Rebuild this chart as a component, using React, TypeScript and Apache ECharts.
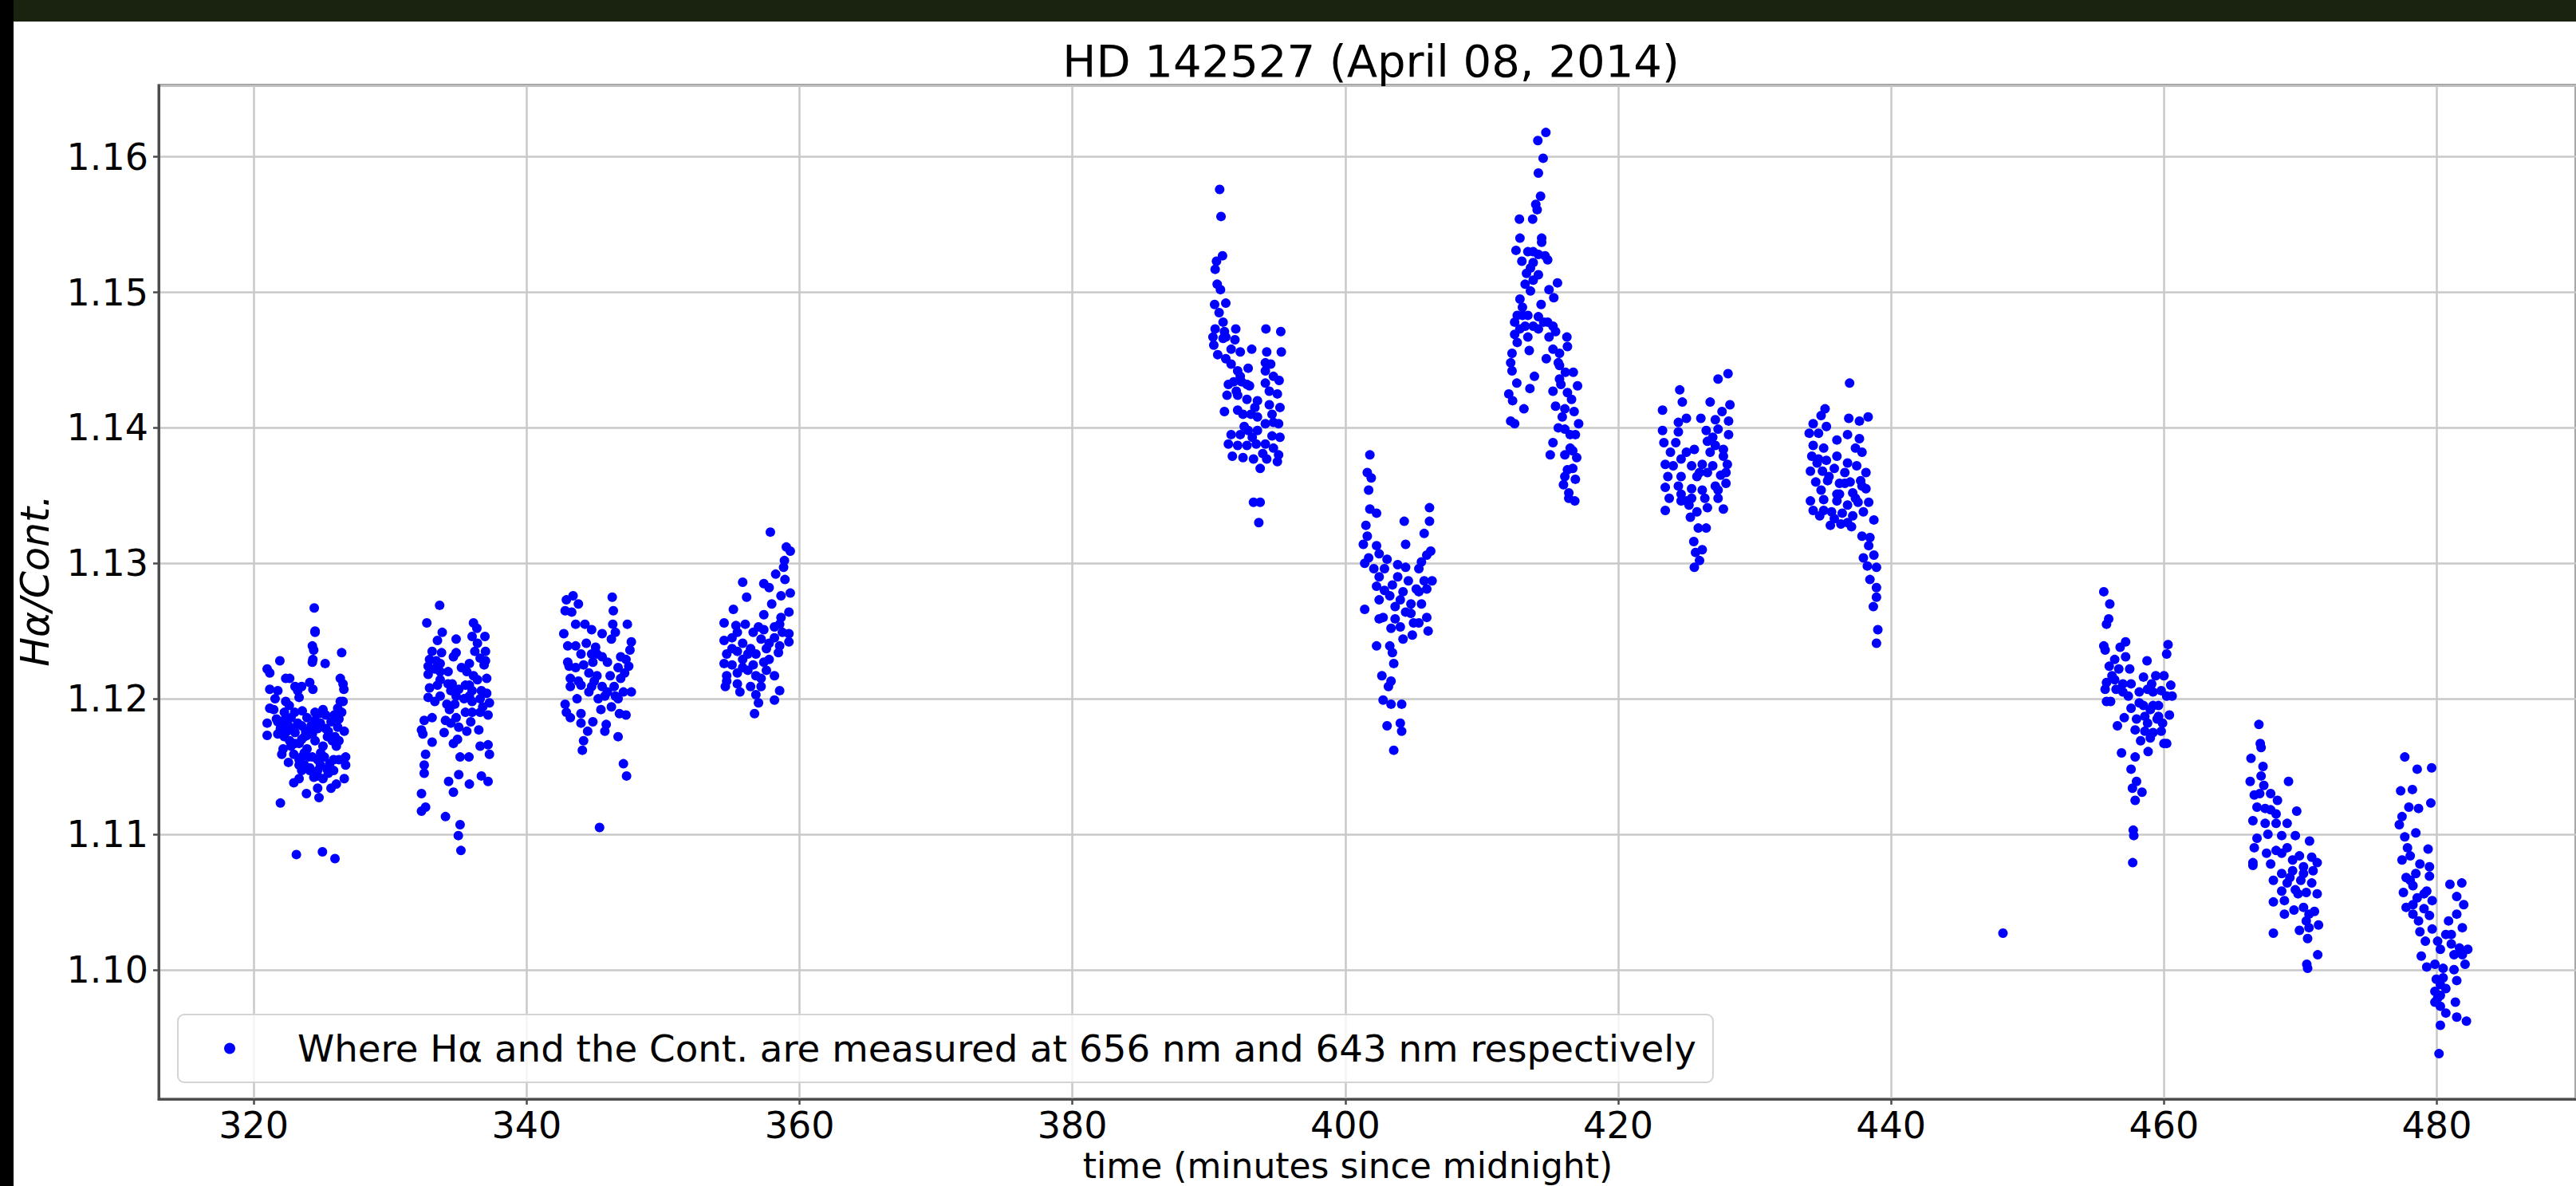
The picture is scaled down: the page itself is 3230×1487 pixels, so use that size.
import React, { useEffect, useRef } from "react";
import * as echarts from "echarts";

const TITLE = "HD 142527 (April 08, 2014)";
const X_LABEL = "time (minutes since midnight)";
const Y_LABEL = "Hα/Cont.";
const LEGEND_LABEL = "Where Hα and the Cont. are measured at 656 nm and 643 nm respectively";

const X_MIN = 313.03;
const X_MAX = 490.2;
const X_STEP = 20;
const Y_MIN = 1.09045;
const Y_MAX = 1.16528;
const Y_STEP = 0.01;

type P = [number, number];

const seg321: P[] = [
  [324.43,1.1267],[324.49,1.1250],[324.49,1.1249],[324.29,1.1239],[324.39,1.1236],[324.33,1.1229],[324.29,1.1227],[325.23,1.1226],[326.44,1.1234],[321.91,1.1228],[320.98,1.1222],[321.17,1.1219],[322.34,1.1215],[322.63,1.1215],[323.02,1.1209],[323.22,1.1206],[323.51,1.1209],[324.10,1.1212],[324.33,1.1207],[326.34,1.1215],[326.54,1.1211],[326.60,1.1207],[321.17,1.1207],[321.76,1.1206],[323.32,1.1201],[322.34,1.1198],[321.17,1.1193],[321.46,1.1192],[323.55,1.1191],[325.07,1.1192],[324.78,1.1189],[326.34,1.1198],[326.44,1.1190],[326.24,1.1185],[320.98,1.1182],[321.76,1.1183],[322.05,1.1180],[322.44,1.1176],[322.73,1.1186],[323.22,1.1182],[323.51,1.1180],[323.80,1.1176],[320.98,1.1173],[321.76,1.1174],[322.24,1.1172],[322.63,1.1169],[323.02,1.1167],[323.51,1.1170],[323.90,1.1173],[324.20,1.1180],[324.49,1.1184],[324.88,1.1182],[325.27,1.1178],[325.66,1.1183],[326.15,1.1179],[326.63,1.1176],[322.15,1.1163],[322.05,1.1159],[322.73,1.1165],[323.32,1.1167],[323.90,1.1163],[324.49,1.1169],[325.07,1.1165],[325.76,1.1169],[326.05,1.1165],[322.54,1.1153],[323.32,1.1155],[323.71,1.1151],[324.10,1.1149],[324.68,1.1155],[325.17,1.1157],[325.56,1.1152],[325.85,1.1155],[326.73,1.1157],[326.73,1.1151],[322.93,1.1138],[323.32,1.1141],[323.51,1.1147],[324.10,1.1147],[324.68,1.1143],[325.07,1.1141],[325.46,1.1145],[325.66,1.1134],[326.05,1.1137],[326.63,1.1141],[323.86,1.1130],[324.68,1.1134],[324.78,1.1127],[321.95,1.1123],[323.12,1.1085],[325.03,1.1087],[325.95,1.1082],
  [322.30,1.1185],[322.90,1.1178],[323.00,1.1190],[323.70,1.1160],[324.90,1.1160],[325.40,1.1172],[325.90,1.1188],[322.60,1.1195],[324.00,1.1157],[324.40,1.1142],
  [321.66,1.1185],[321.95,1.1178],[322.54,1.1180],[323.02,1.1175],[323.71,1.1172],[324.29,1.1174],[324.68,1.1178],[325.46,1.1176],[325.95,1.1172],[326.24,1.1169],[322.93,1.1159],[323.51,1.1157],[324.29,1.1157],[324.88,1.1151],[325.37,1.1148],[325.85,1.1147],[324.68,1.1147],[323.32,1.1151],[326.24,1.1155],[326.54,1.1198],[326.15,1.1193],[325.27,1.1188],[324.49,1.1190],[323.90,1.1186],[322.24,1.1190],[321.56,1.1200]
];

const seg333: P[] = [
  [333.62,1.1269],[332.68,1.1256],[333.81,1.1249],[334.83,1.1244],[336.10,1.1256],[336.35,1.1252],[336.94,1.1246],[336.00,1.1246],[336.39,1.1241],[333.46,1.1243],[333.07,1.1235],[333.76,1.1234],[334.83,1.1234],[334.63,1.1231],[336.20,1.1235],[336.98,1.1235],[336.59,1.1230],[336.98,1.1228],[336.88,1.1225],[332.88,1.1229],[333.37,1.1228],[332.78,1.1224],[333.27,1.1222],[333.66,1.1220],[334.24,1.1220],[335.22,1.1223],[335.61,1.1220],[336.10,1.1217],[337.07,1.1215],[332.78,1.1218],[332.88,1.1208],[333.46,1.1210],[334.24,1.1211],[334.54,1.1211],[335.02,1.1207],[335.51,1.1210],[336.00,1.1206],[336.68,1.1206],[337.07,1.1204],[332.78,1.1201],[333.27,1.1198],[333.66,1.1202],[334.15,1.1196],[334.83,1.1202],[335.41,1.1200],[336.00,1.1198],[336.59,1.1200],[337.27,1.1197],[334.34,1.1192],[335.51,1.1190],[336.00,1.1190],[336.59,1.1190],[337.17,1.1188],[333.07,1.1186],[332.49,1.1184],[332.29,1.1177],[332.39,1.1174],[334.05,1.1184],[334.44,1.1182],[335.02,1.1179],[335.90,1.1183],[336.49,1.1177],[333.95,1.1175],[333.07,1.1168],[334.63,1.1167],[334.93,1.1170],[336.59,1.1165],[337.17,1.1166],[337.27,1.1159],[332.59,1.1159],[335.12,1.1157],[335.77,1.1157],[332.49,1.1151],[332.49,1.1145],[335.02,1.1144],[334.28,1.1139],[334.63,1.1131],[335.80,1.1137],[336.68,1.1143],[337.17,1.1139],[332.29,1.1130],[332.59,1.1120],[332.29,1.1117],[334.05,1.1113],[335.12,1.1107],[334.99,1.1099],[335.18,1.1088],
  [333.66,1.1214],[334.44,1.1206],[335.80,1.1210],[336.39,1.1214],[333.66,1.1226],[335.80,1.1226],[334.73,1.1196],[335.80,1.1202],[336.78,1.1194],[334.83,1.1186],[335.61,1.1176]
];

const seg345: P[] = [
  [343.40,1.1276],[342.91,1.1273],[343.79,1.1270],[346.27,1.1275],[342.82,1.1265],[343.30,1.1264],[346.35,1.1265],[343.59,1.1255],[344.27,1.1255],[344.76,1.1251],[345.53,1.1248],[346.31,1.1255],[346.50,1.1249],[347.38,1.1255],[342.72,1.1248],[347.67,1.1242],[346.21,1.1244],[343.01,1.1239],[343.59,1.1239],[344.37,1.1241],[345.05,1.1238],[343.98,1.1233],[345.15,1.1233],[347.57,1.1236],[343.01,1.1227],[343.11,1.1224],[344.17,1.1225],[344.85,1.1227],[345.92,1.1227],[347.28,1.1229],[347.48,1.1224],[343.20,1.1215],[343.79,1.1213],[344.56,1.1219],[345.15,1.1217],[346.12,1.1217],[346.89,1.1215],[347.18,1.1219],[343.20,1.1209],[343.98,1.1210],[344.76,1.1209],[345.53,1.1209],[346.41,1.1209],[347.67,1.1205],[347.09,1.1205],[343.69,1.1200],[345.24,1.1200],[345.73,1.1202],[346.70,1.1200],[342.82,1.1196],[342.91,1.1190],[343.20,1.1186],[343.98,1.1189],[345.44,1.1192],[346.21,1.1194],[346.80,1.1189],[347.28,1.1188],[343.98,1.1182],[344.85,1.1183],[345.83,1.1181],[345.73,1.1176],[344.47,1.1176],[346.70,1.1172],[344.17,1.1169],[344.08,1.1162],[347.09,1.1152],[347.32,1.1143],[345.34,1.1105],
  [344.76,1.1233],[345.53,1.1231],[346.70,1.1223],[344.95,1.1213],[345.92,1.1205],[346.50,1.1202],[344.56,1.1205],[343.59,1.1223],[346.89,1.1231]
];

const seg357: P[] = [
  [357.86,1.1323],[359.03,1.1312],[359.32,1.1309],[358.89,1.1302],[358.83,1.1297],[358.25,1.1292],[358.93,1.1288],[355.83,1.1286],[357.38,1.1285],[357.77,1.1282],[356.12,1.1275],[358.64,1.1276],[359.32,1.1278],[357.96,1.1270],[355.15,1.1266],[359.22,1.1264],[357.38,1.1262],[358.64,1.1260],[354.47,1.1256],[355.34,1.1254],[356.02,1.1255],[356.60,1.1249],[357.38,1.1251],[358.16,1.1253],[358.74,1.1249],[359.22,1.1248],[354.47,1.1243],[355.05,1.1245],[355.83,1.1241],[357.18,1.1244],[357.77,1.1241],[358.54,1.1239],[359.22,1.1242],[354.66,1.1233],[355.44,1.1235],[356.21,1.1233],[356.80,1.1233],[357.57,1.1237],[358.45,1.1234],[354.47,1.1226],[355.05,1.1225],[355.83,1.1229],[356.60,1.1225],[357.38,1.1227],[354.66,1.1217],[355.44,1.1219],[356.21,1.1221],[356.80,1.1217],[357.57,1.1221],[358.16,1.1217],[354.56,1.1209],[355.44,1.1211],[356.41,1.1209],[357.18,1.1209],[355.63,1.1205],[356.80,1.1203],[356.99,1.1197],[358.16,1.1199],[358.54,1.1206],[356.70,1.1189],
  [355.05,1.1237],[356.41,1.1237],[355.83,1.1223],[357.18,1.1215],[357.77,1.1229],[358.16,1.1245],[356.99,1.1253],[358.54,1.1255],[355.44,1.1249],[354.66,1.1213]
];

const seg392: P[] = [
  [390.79,1.1576],[390.89,1.1556],[391.00,1.1527],[390.56,1.1523],[390.46,1.1517],[390.61,1.1506],[390.85,1.1502],[390.42,1.1491],[391.24,1.1492],[390.75,1.1485],[391.04,1.1478],[390.46,1.1473],[391.14,1.1471],[391.97,1.1473],[390.30,1.1467],[391.04,1.1466],[391.91,1.1465],[390.36,1.1461],[390.65,1.1454],[391.24,1.1451],[392.30,1.1456],[393.14,1.1458],[391.63,1.1447],[392.11,1.1442],[392.88,1.1444],[391.82,1.1434],[392.40,1.1434],[392.98,1.1431],[391.43,1.1432],[391.33,1.1424],[392.11,1.1424],[392.79,1.1421],[393.56,1.1420],[391.14,1.1412],[392.11,1.1413],[392.50,1.1410],[393.08,1.1410],[393.56,1.1408],[391.63,1.1395],[392.30,1.1395],[392.88,1.1398],[393.56,1.1398],[391.43,1.1388],[392.11,1.1387],[392.79,1.1387],[393.47,1.1388],[391.72,1.1379],[392.50,1.1378],[393.27,1.1377],[393.76,1.1370],[393.27,1.1345],[393.76,1.1345],[393.66,1.1330],
  [394.18,1.1473],[395.27,1.1471],[394.24,1.1456],[395.31,1.1456],[394.14,1.1448],[394.53,1.1447],[394.14,1.1442],[394.14,1.1433],[395.15,1.1435],[394.43,1.1427],[395.02,1.1425],[394.43,1.1417],[395.21,1.1415],[394.63,1.1410],[395.11,1.1403],[394.14,1.1403],[394.63,1.1394],[395.21,1.1393],[394.14,1.1388],[394.73,1.1385],[395.11,1.1380],[394.24,1.1377],[395.02,1.1375],
  [391.24,1.1467],[391.63,1.1458],[392.30,1.1438],[392.79,1.1432],[393.37,1.1415],[392.59,1.1401],[393.18,1.1393],[394.73,1.1438],[394.73,1.1404],[393.95,1.1381],[392.01,1.1427]
];

const seg404: P[] = [
  [401.80,1.1380],[401.61,1.1367],[401.90,1.1363],[401.71,1.1354],[401.80,1.1340],[402.29,1.1337],[401.51,1.1328],[401.61,1.1320],[401.32,1.1314],[402.29,1.1313],[401.42,1.1300],[402.48,1.1307],[403.06,1.1303],[404.42,1.1314],[404.32,1.1331],[406.17,1.1341],[406.17,1.1331],[405.78,1.1322],[405.97,1.1306],[406.26,1.1309],[402.09,1.1296],[402.87,1.1296],[403.84,1.1299],[404.42,1.1297],[405.39,1.1296],[405.58,1.1301],[405.78,1.1287],[406.36,1.1287],[402.29,1.1283],[402.87,1.1280],[403.84,1.1290],[404.62,1.1287],[405.20,1.1281],[405.97,1.1281],[401.42,1.1266],[402.48,1.1273],[403.26,1.1276],[404.03,1.1273],[404.81,1.1270],[405.58,1.1270],[405.97,1.1260],[402.77,1.1260],[403.65,1.1259],[404.42,1.1264],[405.00,1.1256],[406.07,1.1250],[403.35,1.1252],[404.23,1.1244],[404.91,1.1247],[402.29,1.1239],[403.26,1.1239],[403.45,1.1234],[403.55,1.1226],[402.68,1.1217],[403.35,1.1213],[403.16,1.1209],[402.77,1.1199],[403.35,1.1196],[404.13,1.1196],[403.06,1.1180],[404.03,1.1182],[404.13,1.1176],[403.55,1.1162],
  [402.48,1.1290],[403.45,1.1284],[404.23,1.1279],[405.39,1.1279],[403.65,1.1268],[404.81,1.1263],[402.48,1.1259],[405.39,1.1256],[404.03,1.1253],[401.71,1.1304]
];

const seg414: P[] = [
  [414.70,1.1618],[414.11,1.1612],[414.50,1.1599],[414.15,1.1588],[414.31,1.1571],[413.96,1.1565],[414.06,1.1561],[412.76,1.1554],[413.73,1.1554],[412.80,1.1540],[414.39,1.1540],[414.39,1.1537],[412.51,1.1531],[413.38,1.1530],[413.77,1.1530],[414.15,1.1528],[414.64,1.1527],[414.83,1.1524],[412.94,1.1523],[413.57,1.1518],[413.28,1.1514],[414.15,1.1513],[413.18,1.1506],[413.77,1.1509],[415.55,1.1507],[413.57,1.1501],[414.93,1.1502],[415.28,1.1496],[414.35,1.1491],[412.80,1.1495],[412.98,1.1489],[412.60,1.1483],[413.38,1.1483],[414.15,1.1482],[414.83,1.1478],[412.41,1.1478],[413.18,1.1475],[413.77,1.1475],[415.22,1.1475],[415.41,1.1471],[412.41,1.1469],[413.38,1.1467],[414.93,1.1467],[416.24,1.1467],[412.60,1.1463],[416.28,1.1460],[412.22,1.1455],[413.48,1.1457],[415.22,1.1458],[415.70,1.1455],[412.12,1.1448],[414.73,1.1451],[415.61,1.1448],[412.22,1.1442],[415.70,1.1446],[416.13,1.1441],[416.71,1.1441],[413.86,1.1438],[412.57,1.1433],[415.80,1.1432],[417.02,1.1431],[413.53,1.1429],[415.22,1.1427],[411.98,1.1425],[412.26,1.1420],[413.09,1.1414],[416.58,1.1421],[415.41,1.1416],[416.09,1.1414],[416.77,1.1412],[412.12,1.1405],[412.41,1.1403],[415.61,1.1400],[416.09,1.1399],[417.10,1.1403],[416.48,1.1395],[416.86,1.1395],[415.22,1.1389],[415.02,1.1380],[416.09,1.1380],[416.67,1.1383],[416.96,1.1378],[416.67,1.1370],[416.09,1.1364],[416.86,1.1362],[415.99,1.1358],[416.38,1.1352],[416.38,1.1348],[416.82,1.1346],
  [412.99,1.1483],[412.79,1.1473],[414.15,1.1473],[414.54,1.1478],[415.70,1.1436],[416.28,1.1426],[415.90,1.1408],[416.48,1.1385],[416.28,1.1369],[413.77,1.1522]
];

const seg426: P[] = [
  [423.25,1.1413],[424.51,1.1428],[424.70,1.1419],[426.74,1.1419],[427.32,1.1436],[428.05,1.1440],[428.19,1.1417],[427.61,1.1412],[425.00,1.1407],[424.41,1.1404],[426.06,1.1407],[427.12,1.1406],[428.09,1.1405],[423.25,1.1398],[424.41,1.1397],[426.45,1.1398],[427.32,1.1399],[428.09,1.1395],[423.35,1.1389],[424.22,1.1389],[425.00,1.1382],[426.54,1.1390],[427.12,1.1387],[427.71,1.1384],[426.74,1.1382],[424.61,1.1377],[423.45,1.1373],[424.03,1.1372],[425.38,1.1372],[426.16,1.1373],[426.93,1.1372],[428.00,1.1373],[423.64,1.1364],[424.61,1.1364],[425.77,1.1364],[426.54,1.1367],[427.51,1.1365],[427.90,1.1367],[423.45,1.1356],[424.41,1.1357],[425.38,1.1355],[426.16,1.1354],[427.12,1.1357],[427.90,1.1359],[423.74,1.1348],[424.61,1.1346],[425.38,1.1348],[426.35,1.1348],[427.32,1.1348],[423.45,1.1339],[425.19,1.1343],[425.77,1.1338],[426.54,1.1341],[427.71,1.1340],[425.29,1.1334],[425.87,1.1326],[426.45,1.1326],[425.54,1.1316],[425.67,1.1308],[426.16,1.1310],[425.96,1.1302],[425.58,1.1297],
  [423.83,1.1382],[425.58,1.1384],[425.96,1.1367],[424.61,1.1351],[427.32,1.1354],[425.00,1.1346],[426.93,1.1393],[427.71,1.1379]
];

const seg437: P[] = [
  [436.96,1.1433],[435.16,1.1414],[434.87,1.1409],[436.90,1.1407],[437.68,1.1405],[438.32,1.1408],[434.29,1.1403],[435.26,1.1401],[434.00,1.1396],[434.68,1.1396],[436.03,1.1391],[436.81,1.1395],[437.68,1.1392],[434.29,1.1387],[435.06,1.1385],[437.39,1.1385],[437.87,1.1382],[434.19,1.1379],[436.03,1.1379],[434.58,1.1374],[435.26,1.1376],[436.81,1.1374],[437.48,1.1372],[434.09,1.1368],[434.97,1.1368],[435.84,1.1370],[436.61,1.1367],[438.16,1.1367],[434.48,1.1360],[435.35,1.1361],[436.22,1.1359],[437.00,1.1360],[437.87,1.1357],[434.87,1.1354],[436.03,1.1351],[437.19,1.1352],[438.16,1.1355],[434.09,1.1346],[435.06,1.1347],[436.03,1.1346],[436.81,1.1343],[437.58,1.1345],[438.36,1.1345],[434.29,1.1339],[434.77,1.1335],[435.64,1.1338],[436.42,1.1337],[437.19,1.1335],[437.97,1.1338],[435.55,1.1328],[436.32,1.1329],[437.10,1.1327],[438.74,1.1332],[437.87,1.1320],[438.45,1.1319],[438.36,1.1313],[437.97,1.1304],[438.74,1.1306],[438.26,1.1298],[438.93,1.1297],[438.45,1.1288],[438.93,1.1282],[438.93,1.1275],[438.70,1.1268],[439.03,1.1251],[438.93,1.1241],
  [434.68,1.1377],[435.45,1.1364],[436.22,1.1351],[436.61,1.1359],[437.39,1.1348],[435.84,1.1333],[436.81,1.1330],[435.06,1.1339],[437.77,1.1361]
];

const seg448: P[] = [[448.2,1.1027]];

const seg458: P[] = [
  [455.59,1.1279],[456.03,1.1270],[455.95,1.1259],[455.79,1.1255],[455.59,1.1239],[455.69,1.1236],[457.19,1.1242],[456.79,1.1238],[460.30,1.1240],[460.20,1.1233],[455.99,1.1224],[456.39,1.1229],[457.19,1.1231],[456.69,1.1222],[457.49,1.1222],[455.79,1.1212],[456.39,1.1214],[456.99,1.1211],[457.59,1.1211],[455.69,1.1207],[456.49,1.1207],[457.39,1.1202],[456.09,1.1198],[455.79,1.1198],[458.76,1.1228],[458.50,1.1216],[459.40,1.1217],[460.00,1.1217],[459.10,1.1211],[460.50,1.1210],[458.19,1.1205],[458.80,1.1207],[459.80,1.1206],[460.20,1.1202],[460.60,1.1202],[457.59,1.1193],[458.50,1.1195],[459.00,1.1192],[459.60,1.1195],[460.40,1.1188],[457.09,1.1186],[456.59,1.1180],[457.99,1.1185],[458.80,1.1182],[459.50,1.1185],[459.90,1.1182],[457.89,1.1177],[458.60,1.1176],[459.20,1.1175],[459.80,1.1176],[458.29,1.1169],[459.00,1.1171],[460.00,1.1167],[460.20,1.1167],[456.89,1.1160],[457.89,1.1157],[458.84,1.1161],[457.59,1.1148],[457.99,1.1139],[457.69,1.1134],[458.39,1.1131],[457.89,1.1125],[457.75,1.1103],[457.79,1.1099],[457.71,1.1079],
  [456.19,1.1217],[456.99,1.1205],[458.19,1.1197],[459.20,1.1205],[459.60,1.1187],[458.60,1.1187],[459.20,1.1195]
];

const seg469: P[] = [
  [466.96,1.1181],[467.06,1.1167],[467.12,1.1164],[466.38,1.1156],[467.26,1.1150],[466.32,1.1139],[467.12,1.1143],[467.32,1.1136],[469.13,1.1139],[466.62,1.1129],[467.82,1.1130],[468.32,1.1125],[466.82,1.1120],[467.42,1.1119],[468.22,1.1115],[469.73,1.1117],[466.52,1.1110],[467.42,1.1108],[468.22,1.1108],[469.03,1.1108],[466.82,1.1097],[467.62,1.1100],[468.63,1.1099],[469.63,1.1099],[470.67,1.1095],[466.62,1.1090],[467.52,1.1086],[468.22,1.1088],[469.03,1.1090],[469.93,1.1084],[470.83,1.1083],[471.23,1.1079],[466.52,1.1079],[466.52,1.1077],[467.82,1.1078],[468.63,1.1071],[469.43,1.1073],[470.23,1.1071],[470.93,1.1073],[468.02,1.1066],[469.03,1.1064],[470.03,1.1066],[470.83,1.1064],[468.63,1.1058],[469.63,1.1059],[470.43,1.1057],[471.23,1.1056],[468.02,1.1050],[468.83,1.1051],[470.23,1.1046],[471.03,1.1043],[468.83,1.1041],[469.53,1.1044],[470.43,1.1036],[471.33,1.1033],[468.02,1.1027],[469.93,1.1029],[470.63,1.1031],[470.53,1.1023],[471.27,1.1011],[470.47,1.1004],[470.53,1.1001],
  [467.82,1.1118],[468.63,1.1086],[469.43,1.1081],[470.23,1.1076],[469.83,1.1056],[469.23,1.1068],[467.02,1.1130],[470.63,1.1041]
];

const seg480: P[] = [
  [477.65,1.1157],[478.56,1.1148],[479.62,1.1149],[477.35,1.1132],[478.21,1.1133],[477.95,1.1120],[478.66,1.1119],[479.56,1.1123],[477.45,1.1113],[477.25,1.1107],[477.65,1.1098],[478.46,1.1101],[477.85,1.1090],[478.05,1.1084],[477.45,1.1081],[479.36,1.1089],[478.76,1.1078],[479.46,1.1076],[477.75,1.1068],[478.46,1.1071],[479.46,1.1069],[478.25,1.1062],[477.55,1.1057],[479.26,1.1058],[478.56,1.1053],[479.66,1.1051],[477.75,1.1046],[478.25,1.1048],[479.06,1.1045],[479.46,1.1040],[478.66,1.1036],[478.76,1.1028],[479.66,1.1030],[479.16,1.1021],[478.86,1.1010],[479.26,1.1002],[480.06,1.1021],[480.96,1.1063],[481.83,1.1064],[481.46,1.1054],[481.97,1.1048],[481.46,1.1041],[480.86,1.1036],[481.87,1.1031],[481.06,1.1026],[480.26,1.1015],[481.06,1.1019],[481.66,1.1016],[482.27,1.1015],[479.86,1.1004],[480.46,1.1001],[481.26,1.1000],[482.07,1.1004],[481.46,1.0992],[479.96,1.0993],[480.46,1.0994],[479.86,1.0984],[480.26,1.0981],[480.66,1.0986],[479.86,1.0976],[480.26,1.0973],[481.36,1.0976],[480.66,1.0968],[481.46,1.0965],[482.17,1.0962],[480.26,1.0959],[480.16,1.0938],
  [478.25,1.1041],[479.06,1.1056],[480.66,1.1026],[481.26,1.1011],[480.26,1.0989],[480.06,1.0979],[481.87,1.1011],[478.05,1.1066]
];

const allPoints: P[] = [
  ...seg321, ...seg333, ...seg345, ...seg357, ...seg392, ...seg404, ...seg414,
  ...seg426, ...seg437, ...seg448, ...seg458, ...seg469, ...seg480,
];

const FONT = "DejaVu Sans";
const AXIS_COLOR = "#4d4d4d";
const GRID_COLOR = "#c9c9c9";

export default function App() {
  const ref = useRef<HTMLDivElement>(null);
  useEffect(() => {
    document.body.style.margin = "0";
    document.body.style.overflow = "hidden";
    const chart = echarts.init(ref.current!, null, { renderer: "svg", width: 3230, height: 1487 });
    chart.setOption({
      animation: false,
      backgroundColor: "#ffffff",
      textStyle: { fontFamily: FONT },
      grid: {
        left: 199,
        top: 107,
        width: 3039,
        height: 1271,
        show: true,
        borderColor: AXIS_COLOR,
        borderWidth: 3,
        backgroundColor: "transparent",
      },
      xAxis: {
        type: "value",
        min: X_MIN,
        max: X_MAX,
        minInterval: X_STEP,
        maxInterval: X_STEP,
        axisLine: { show: true, onZero: false, lineStyle: { color: AXIS_COLOR, width: 3 } },
        axisTick: { show: true, length: 7, lineStyle: { color: AXIS_COLOR, width: 2.5 } },
        axisLabel: {
          showMinLabel: false,
          showMaxLabel: false,
          fontSize: 46,
          lineHeight: 46,
          color: "#000",
          fontFamily: FONT,
          margin: 10,
          formatter: (v: number) => String(Math.round(v)),
        },
        splitLine: { show: true, lineStyle: { color: GRID_COLOR, width: 2.5 } },
      },
      yAxis: {
        type: "value",
        min: Y_MIN,
        max: Y_MAX,
        minInterval: Y_STEP,
        maxInterval: Y_STEP,
        axisLine: { show: true, onZero: false, lineStyle: { color: AXIS_COLOR, width: 3 } },
        axisTick: { show: true, length: 7, lineStyle: { color: AXIS_COLOR, width: 2.5 } },
        axisLabel: {
          showMinLabel: false,
          showMaxLabel: false,
          fontSize: 46,
          color: "#000",
          fontFamily: FONT,
          margin: 13,
          formatter: (v: number) => v.toFixed(2),
        },
        splitLine: { show: true, lineStyle: { color: GRID_COLOR, width: 2.5 } },
      },
      legend: {
        show: true,
        left: 223,
        top: 1272,
        icon: "circle",
        itemWidth: 14,
        itemHeight: 14,
        padding: [19, 21, 19, 58],
        backgroundColor: "rgba(255,255,255,0.8)",
        borderColor: "#d4d4d4",
        borderWidth: 2,
        borderRadius: 8,
        textStyle: { fontSize: 46.7, color: "#000", fontFamily: FONT, padding: [0, 0, 0, 73] },
        data: [LEGEND_LABEL],
      },
      series: [
        {
          name: LEGEND_LABEL,
          type: "scatter",
          data: allPoints,
          symbol: "circle",
          symbolSize: 12,
          itemStyle: { color: "#0000ff", opacity: 1 },
          z: 3,
        },
      ],
      graphic: [
        { type: "rect", z: 100, shape: { x: 0, y: 0, width: 3230, height: 27 }, style: { fill: "#1a2310" } },
        { type: "rect", z: 101, shape: { x: 0, y: 0, width: 17, height: 1487 }, style: { fill: "#000000" } },
        {
          type: "text",
          z: 102,
          x: 1719,
          y: 76,
          style: {
            text: TITLE,
            fontSize: 56,
            fontFamily: FONT,
            fill: "#000",
            textAlign: "center",
            align: "center",
            textVerticalAlign: "middle",
            verticalAlign: "middle",
          },
        },
        {
          type: "text",
          z: 102,
          x: 1690,
          y: 1461,
          style: {
            text: X_LABEL,
            fontSize: 44,
            lineHeight: 44,
            fontFamily: FONT,
            fill: "#000",
            textAlign: "center",
            align: "center",
            textVerticalAlign: "middle",
            verticalAlign: "middle",
          },
        },
        {
          type: "text",
          z: 102,
          x: 44,
          y: 728,
          rotation: Math.PI / 2,
          style: {
            text: Y_LABEL,
            fontSize: 49,
            fontStyle: "italic",
            fontFamily: FONT,
            fill: "#000",
            textAlign: "center",
            align: "center",
            textVerticalAlign: "middle",
            verticalAlign: "middle",
          },
        },
      ],
    });
    return () => chart.dispose();
  }, []);
  return (
    <div
      ref={ref}
      style={{ position: "absolute", left: 0, top: 0, width: 3230, height: 1487, background: "#fff" }}
    />
  );
}
